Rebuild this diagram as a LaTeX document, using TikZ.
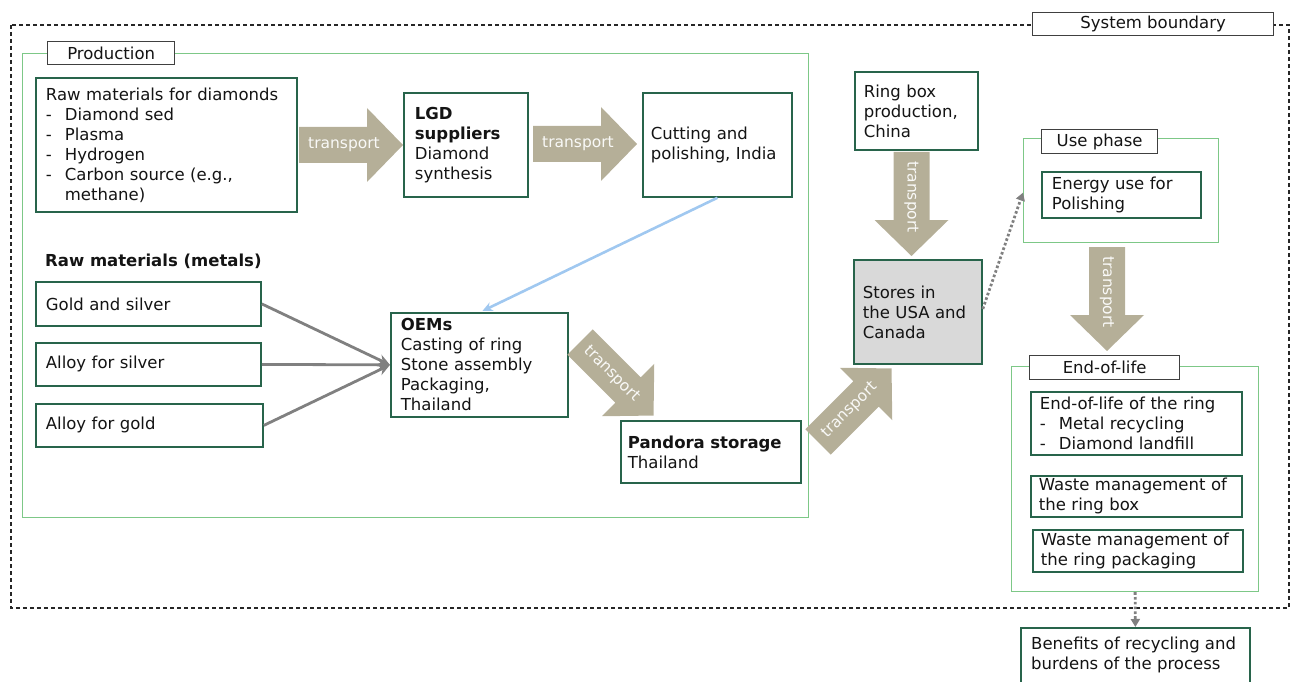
\documentclass[tikz,border=0pt]{standalone}
\usepackage{fontspec}
\setmainfont{DejaVu Sans}
\usetikzlibrary{arrows.meta}
\definecolor{dgreen}{RGB}{40,100,75}
\definecolor{lgreen}{RGB}{125,200,135}
\definecolor{tanc}{RGB}{181,175,152}
\definecolor{garr}{RGB}{128,128,128}
\definecolor{barr}{RGB}{160,200,240}
\definecolor{txt}{RGB}{20,20,20}
\definecolor{storefill}{RGB}{217,217,217}
\newcommand\dsh{\makebox[19pt][l]{-}}
\newcommand\tarrow[4]{%
  \begin{scope}[shift={(#2,#3)},rotate=#4]
    \fill[tanc] (0,18) -- (68,18) -- (68,37) -- (104,0) -- (68,-37) -- (68,-18) -- (0,-18) -- cycle;
    \node[tlabel,rotate=#4] (#1) at (45,0) {transport};
  \end{scope}}
\tikzset{
  box/.style={draw=dgreen, line width=1.8pt, fill=white, anchor=north west, align=left,
    inner ysep=0pt, text=txt, font=\fontsize{16.5}{20}\selectfont},
  grp/.style={draw=lgreen, line width=1.2pt, anchor=north west, inner sep=0pt},
  lbl/.style={draw=black!75, line width=1.3pt, fill=white, anchor=north west, inner sep=0pt,
    text=txt, font=\fontsize{16.5}{20}\selectfont},
  tlabel/.style={text=white!92!tanc, font=\fontsize{15.5}{20}\selectfont, inner sep=0pt},
  sysb/.style={draw=black!85, line width=1.3pt, dash pattern=on 4pt off 3pt},
  garrow/.style={draw=garr, line width=2.8pt, -{Stealth[length=12pt,width=11pt,inset=4pt]}},
  barrow/.style={draw=barr, line width=2.6pt, -{Stealth[length=10pt,width=9pt,inset=3pt]}},
  darrow/.style={draw=garr, line width=2.8pt, dash pattern=on 2.6pt off 2.2pt, -{Triangle[length=8pt,width=9pt]}},
}
\begin{document}
\begin{tikzpicture}[x=1pt,y=-1pt]
\useasboundingbox (0,0) rectangle (1294,682);

% system boundary
\draw[sysb] (11,25) rectangle (1289,608);
\node[lbl, minimum width=241pt, minimum height=23pt] (sysl) at (1032,12) {System boundary};

% groups
\node[grp, minimum width=786pt, minimum height=464pt] (prodgrp) at (22,53) {};
\node[lbl, minimum width=127pt, minimum height=23pt] (prodl) at (47,41) {Production};
\node[grp, minimum width=195pt, minimum height=104pt] (usegrp) at (1023,138) {};
\node[lbl, minimum width=116pt, minimum height=24pt] (usel) at (1041,129) {Use phase};
\node[grp, minimum width=247pt, minimum height=225pt] (eolgrp) at (1011,366) {};
\node[lbl, minimum width=150pt, minimum height=24pt] (eoll) at (1029,355) {End-of-life};

% production boxes
\node[box, minimum width=261pt, minimum height=134pt, text width=241pt, inner xsep=10pt] (rawd) at (35,77)
  {Raw materials for diamonds\\ \dsh Diamond sed\\ \dsh Plasma\\ \dsh Hydrogen\\ \dsh Carbon source (e.g.,\\ \hspace*{19pt}methane)};
\node[box, minimum width=124pt, minimum height=104pt, text width=102pt, inner xsep=11pt] (lgd) at (403,92)
  {\textbf{LGD}\\ \textbf{suppliers}\\ Diamond\\ synthesis};
\node[box, minimum width=149pt, minimum height=104pt, text width=133pt, inner xsep=8pt] (cut) at (642,92)
  {Cutting and\\ polishing, India};
\node[anchor=west, inner sep=0pt, text=txt, font=\fontsize{16.5}{20}\selectfont\bfseries] (rawm) at (45,261) {Raw materials (metals)};
\node[box, minimum width=225pt, minimum height=44pt, text width=205pt, inner xsep=10pt] (gs) at (35,281) {Gold and silver};
\node[box, minimum width=225pt, minimum height=43pt, text width=205pt, inner xsep=10pt] (as) at (35,342) {Alloy for silver};
\node[box, minimum width=227pt, minimum height=43pt, text width=207pt, inner xsep=10pt] (ag) at (35,403) {Alloy for gold};
\node[box, minimum width=177pt, minimum height=104pt, text width=157pt, inner xsep=10pt] (oem) at (390,312)
  {\textbf{OEMs}\\ Casting of ring\\ Stone assembly\\ Packaging,\\ Thailand};
\node[box, minimum width=180pt, minimum height=62pt, text width=166pt, inner xsep=7pt] (pan) at (620,420)
  {\textbf{Pandora storage}\\ Thailand};

% distribution
\node[box, minimum width=123pt, minimum height=78pt, text width=105pt, inner xsep=9pt] (ringbox) at (854,71)
  {Ring box\\ production,\\ China};
\node[box, fill=storefill, minimum width=128pt, minimum height=104pt, text width=110pt, inner xsep=9pt] (stores) at (853,259)
  {Stores in\\ the USA and\\ Canada};
\node[box, minimum width=159pt, minimum height=46pt, text width=139pt, inner xsep=10pt] (energy) at (1041,171)
  {Energy use for\\ Polishing};
\node[box, minimum width=211pt, minimum height=63pt, text width=193pt, inner xsep=9pt] (eolring) at (1030,391)
  {End-of-life of the ring\\ \dsh Metal recycling\\ \dsh Diamond landfill};
\node[box, minimum width=211pt, minimum height=41pt, text width=195pt, inner xsep=8pt] (wmbox) at (1030,475)
  {Waste management of\\ the ring box};
\node[box, minimum width=210pt, minimum height=42pt, text width=194pt, inner xsep=8pt] (wmpack) at (1032,529)
  {Waste management of\\ the ring packaging};
\node[box, minimum width=229pt, minimum height=90pt, text width=211pt, inner xsep=9pt, anchor=north west] (benef) at (1020,627) {};
\node[anchor=north west, inner sep=0pt, align=left, text=txt, font=\fontsize{16.5}{20}\selectfont] (beneft) at (1031,637)
  {Benefits of recycling and\\ burdens of the process};

% block arrows
\tarrow{t1}{299}{145}{0}
\tarrow{t2}{533}{144}{0}
\tarrow{t3}{580}{342}{-45}
\tarrow{t4}{818}{442}{45}
\tarrow{t5}{911.5}{152}{-90}
\tarrow{t6}{1107}{247}{-90}

% connectors
\draw[garrow] (gs.east) -- (oem.west);
\draw[garrow] (as.east) -- (oem.west);
\draw[garrow] (ag.east) -- (oem.west);
\draw[barrow] (cut.south) -- ([xshift=3pt,yshift=1pt]oem.north);
\draw[darrow] ([yshift=3pt]stores.east) -- ([yshift=-2pt]usegrp.west);
\draw[darrow] (eolgrp.south) -- (benef.north);
\end{tikzpicture}
\end{document}
